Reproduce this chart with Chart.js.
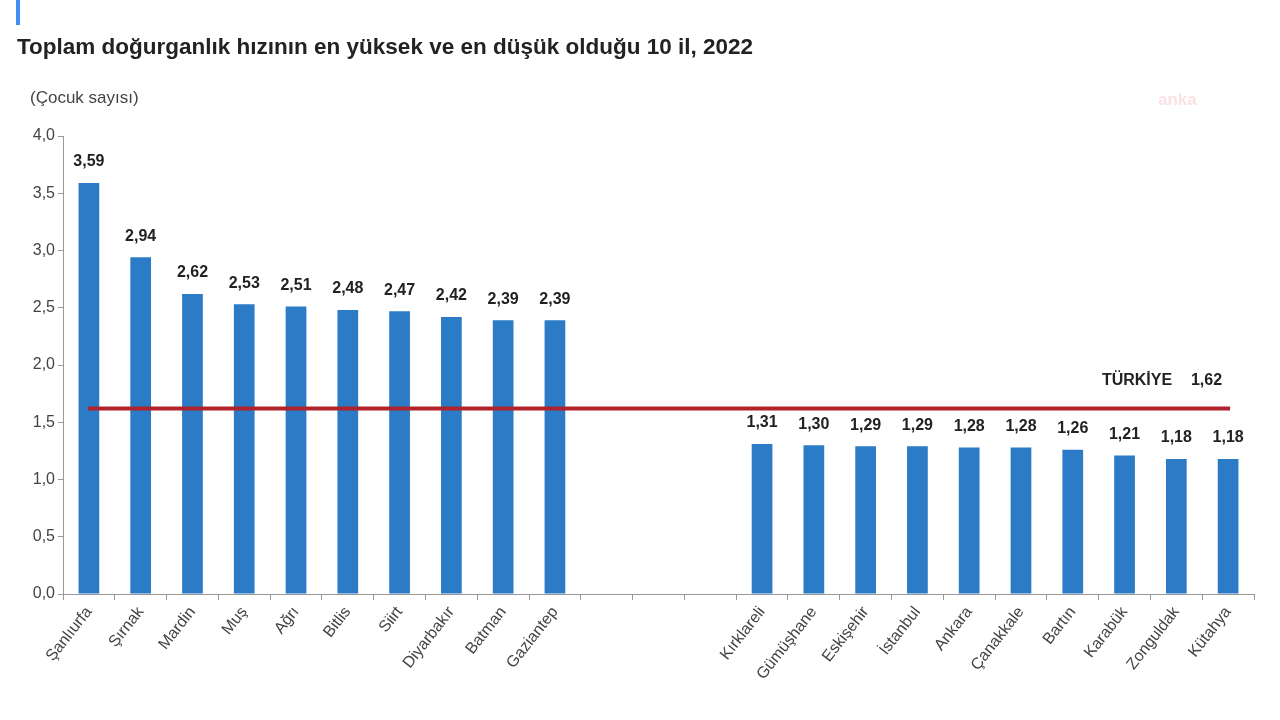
<!DOCTYPE html>
<html>
<head>
<meta charset="utf-8">
<script src="https://cdn.jsdelivr.net/npm/chart.js@4.4.0/dist/chart.umd.min.js"></script>
<style>
  html, body { margin: 0; padding: 0; background: #fff; }
  #wrap { width: 1280px; height: 720px; }
</style>
</head>
<body>
<div id="wrap"><canvas id="tfrChart" width="1280" height="720"></canvas></div>
<script>
// provinces with highest and lowest TFR, three empty slots between the groups
var provinces = ['Şanlıurfa', 'Şırnak', 'Mardin', 'Muş', 'Ağrı', 'Bitlis', 'Siirt', 'Diyarbakır', 'Batman', 'Gaziantep',
                 '', '', '',
                 'Kırklareli', 'Gümüşhane', 'Eskişehir', 'İstanbul', 'Ankara', 'Çanakkale', 'Bartın', 'Karabük', 'Zonguldak', 'Kütahya'];
var fertility = [3.59, 2.94, 2.62, 2.53, 2.51, 2.48, 2.47, 2.42, 2.39, 2.39,
                 null, null, null,
                 1.31, 1.30, 1.29, 1.29, 1.28, 1.28, 1.26, 1.21, 1.18, 1.18];
var turkiyeValue = 1.62;
var yTicks = [0, 0.5, 1, 1.5, 2, 2.5, 3, 3.5, 4];

var sans = '"Liberation Sans", Arial, sans-serif';

function fmt(v) {
    return v.toFixed(2).replace('.', ',');
}

var extras = {
    id: 'extras',
    beforeDraw: function(chart) {
        var c = chart.ctx;
        c.save();
        c.fillStyle = '#3f8ef0';
        c.fillRect(16, 0, 4, 25);
        c.fillStyle = '#222';
        c.font = 'bold 22.5px ' + sans;
        c.textBaseline = 'middle';
        c.fillText('Toplam doğurganlık hızının en yüksek ve en düşük olduğu 10 il, 2022', 17, 48);
        c.fillStyle = '#444';
        c.font = '17px ' + sans;
        c.fillText('(Çocuk sayısı)', 30, 98);
        c.fillStyle = 'rgba(235,120,135,0.22)';
        c.font = 'bold 17px ' + sans;
        c.fillText('anka', 1158, 100);
        c.restore();
    },
    afterDatasetsDraw: function(chart) {
        var c = chart.ctx;
        var x = chart.scales.x;
        var y = chart.scales.y;
        var meta = chart.getDatasetMeta(0);
        c.save();
        // value labels
        c.fillStyle = '#222';
        c.font = 'bold 16px ' + sans;
        c.textAlign = 'center';
        c.textBaseline = 'bottom';
        meta.data.forEach(function(bar, i) {
            if (fertility[i] == null) return;
            c.fillText(fmt(fertility[i]), bar.x, bar.y - 13);
        });
        // Türkiye average line
        var ly = y.getPixelForValue(turkiyeValue);
        var x0 = x.getPixelForValue(0);
        var x1 = x.getPixelForValue(provinces.length - 1);
        c.strokeStyle = '#b0232b';
        c.lineWidth = 4;
        c.beginPath();
        c.moveTo(x0 - 1, ly);
        c.lineTo(x1 + 2, ly);
        c.stroke();
        c.fillStyle = '#222';
        c.font = 'bold 16px ' + sans;
        c.textAlign = 'right';
        c.textBaseline = 'middle';
        c.fillText(fmt(turkiyeValue), x1 - 6, ly - 28);
        c.fillText('TÜRKİYE', x1 - 56, ly - 28);
        c.restore();
    }
};

new Chart(document.getElementById('tfrChart').getContext('2d'), {
    type: 'bar',
    data: {
        labels: provinces,
        datasets: [{
            data: fertility,
            backgroundColor: '#2b7bc6',
            barPercentage: 0.8,
            categoryPercentage: 0.5
        }]
    },
    options: {
        responsive: false,
        animation: false,
        layout: { padding: { top: 136, right: 26, left: 0, bottom: 0 } },
        plugins: {
            legend: { display: false },
            tooltip: { enabled: false }
        },
        scales: {
            x: {
                afterFit: function(s) { s.height = 126; },
                grid: { offset: true, drawOnChartArea: false, drawTicks: true, tickLength: 6, color: '#999' },
                border: { color: '#999' },
                ticks: {
                    autoSkip: false,
                    minRotation: 52,
                    maxRotation: 52,
                    color: '#444',
                    font: { family: sans, size: 16 }
                }
            },
            y: {
                min: 0,
                max: 4,
                afterFit: function(s) { s.width = 63; },
                afterBuildTicks: function(s) { s.ticks = yTicks.map(function(v) { return { value: v }; }); },
                grid: { drawOnChartArea: false, drawTicks: true, tickLength: 5, color: '#999' },
                border: { color: '#999' },
                ticks: {
                    color: '#444',
                    padding: 3,
                    font: { family: sans, size: 16 },
                    callback: function(v) { return v.toFixed(1).replace('.', ','); }
                }
            }
        }
    },
    plugins: [extras]
});
</script>
</body>
</html>
